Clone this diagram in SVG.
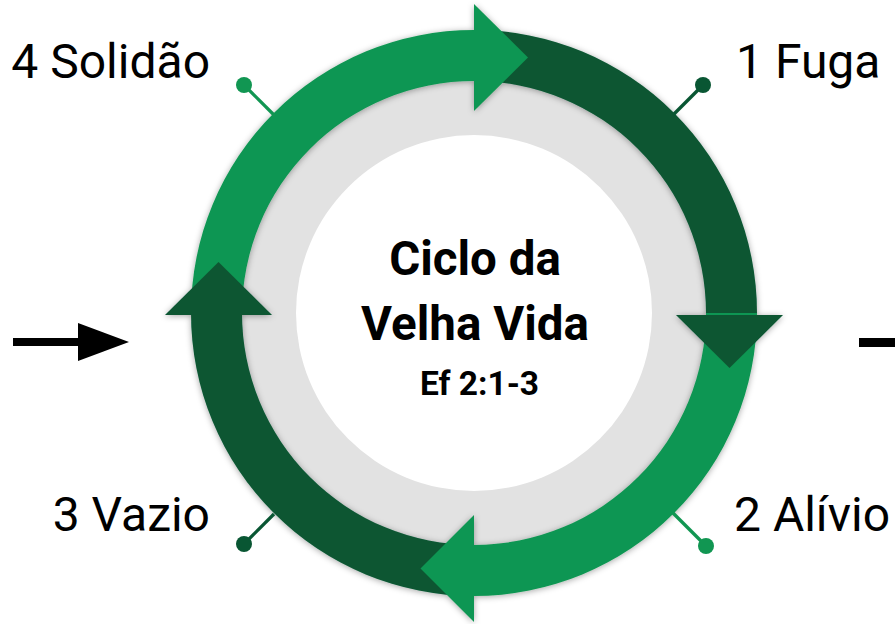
<svg xmlns="http://www.w3.org/2000/svg" width="895" height="624" viewBox="0 0 895 624">
<defs>
<style>
.lt{fill:#119652}
.dk{fill:#095633}
.lbl{font-family:Roboto,"Liberation Sans",sans-serif;font-size:48px;fill:#000}
.ctr{font-family:Roboto,"Liberation Sans",sans-serif;font-weight:bold;fill:#000;text-anchor:middle}
.ln-lt{stroke:#119652;stroke-width:3.3}
.ln-dk{stroke:#095633;stroke-width:3.3}
</style>
<filter id="sh" x="-10%" y="-10%" width="120%" height="120%">
<feDropShadow dx="0" dy="1" stdDeviation="3" flood-color="#000" flood-opacity="0.35"/>
</filter>
</defs>
<rect width="895" height="624" fill="#fff"/>
<g id="disk">
<circle cx="474" cy="313" r="234" fill="#E2E2E2"/>
<circle cx="474" cy="313" r="178" fill="#fff"/>
</g>
<g id="cycle" filter="url(#sh)">
<path class="lt" d="M191 313 A283 283 0 0 1 474 30 L474 81 A232 232 0 0 0 242 313 Z"/>
<path class="dk" d="M474 30 A283 283 0 0 1 757 313 L706 313 A232 232 0 0 0 474 81 Z"/>
<path class="lt" d="M757 313 A283 283 0 0 1 474 596 L474 545 A232 232 0 0 0 706 313 Z"/>
<path class="dk" d="M474 596 A283 283 0 0 1 191 313 L242 313 A232 232 0 0 0 474 545 Z"/>
<polygon class="lt" points="474,4 528,57.5 474,111"/>
<polygon class="dk" points="676,315 783,315 729.5,368"/>
<polygon class="lt" points="474,515 420.5,568.5 474,622"/>
<polygon class="dk" points="165,315 272,315 218.5,262"/>
</g>
<g id="connectors">
<line class="ln-lt" x1="244" y1="85" x2="275" y2="116"/>
<circle class="lt" cx="244" cy="85" r="8"/>
<line class="ln-dk" x1="703" y1="85" x2="673" y2="115"/>
<circle class="dk" cx="703" cy="85" r="8"/>
<line class="ln-lt" x1="706" y1="546" x2="673" y2="513"/>
<circle class="lt" cx="706" cy="546" r="8"/>
<line class="ln-dk" x1="244" y1="544" x2="274" y2="514"/>
<circle class="dk" cx="244" cy="544" r="8"/>
<g id="in-arrow">
<rect x="13" y="338" width="66" height="8" fill="#000"/>
<polygon points="78,323 129,342 78,361" fill="#000"/>
</g>
<g id="out-arrow">
<rect x="859" y="338" width="40" height="9" fill="#000"/>
</g>
</g>
<g id="label-4"><text class="lbl" x="210" y="78" text-anchor="end">4 Solidão</text></g>
<g id="label-1"><text class="lbl" x="736" y="78">1 Fuga</text></g>
<g id="label-2"><text class="lbl" x="734" y="531">2 Alívio</text></g>
<g id="label-3"><text class="lbl" x="210" y="531" text-anchor="end">3 Vazio</text></g>
<g id="center">
<text class="ctr" x="475" y="275" font-size="47.5">Ciclo da</text>
<text class="ctr" x="475" y="340" font-size="47.5">Velha Vida</text>
<text class="ctr" x="479.5" y="395" font-size="33.5">Ef 2:1-3</text>
</g>
</svg>
